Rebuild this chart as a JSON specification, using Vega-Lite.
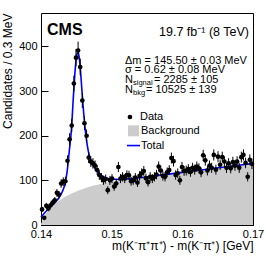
{
  "$schema": "https://vega.github.io/schema/vega-lite/v6.json",
  "width": 212,
  "height": 212,
  "autosize": {"type": "none"},
  "padding": {"left": 41, "top": 13, "right": 13, "bottom": 31},
  "background": "white",
  "config": {
    "view": {"stroke": "black", "strokeWidth": 1},
    "font": "Liberation Sans",
    "axis": {
      "labelFont": "Liberation Sans", "labelFontSize": 11, "labelColor": "black",
      "titleFont": "Liberation Sans", "titleFontSize": 12, "titleFontWeight": "normal", "titleColor": "black",
      "tickColor": "black", "domainColor": "black", "grid": false, "labelFlush": false, "labelOverlap": false
    },
    "text": {"font": "Liberation Sans", "color": "black"}
  },
  "datasets": {
    "bins": [
      {"x":0.14015,"n":35,"e":5.9},{"x":0.14045,"n":16,"e":4},{"x":0.14075,"n":43,"e":6.6},{"x":0.14105,"n":37,"e":6.1},
      {"x":0.14135,"n":44,"e":6.6},{"x":0.14165,"n":50,"e":7.1},{"x":0.14195,"n":55,"e":7.4},{"x":0.14225,"n":72,"e":8.5},
      {"x":0.14255,"n":68,"e":8.2},{"x":0.14285,"n":93,"e":9.6},{"x":0.14315,"n":97,"e":9.8},{"x":0.14345,"n":98,"e":9.9},
      {"x":0.14375,"n":144,"e":12},{"x":0.14405,"n":192,"e":13.9},{"x":0.14435,"n":223,"e":14.9},{"x":0.14465,"n":317,"e":17.8},
      {"x":0.14495,"n":375,"e":19.4},{"x":0.14525,"n":391,"e":19.8},{"x":0.14555,"n":354,"e":18.8},{"x":0.14585,"n":279,"e":16.7},
      {"x":0.14615,"n":228,"e":15.1},{"x":0.14645,"n":200,"e":14.1},{"x":0.14675,"n":151,"e":12.3},{"x":0.14705,"n":142,"e":11.9},
      {"x":0.14735,"n":138,"e":11.7},{"x":0.14765,"n":133,"e":11.5},{"x":0.14795,"n":123,"e":11.1},{"x":0.14825,"n":112,"e":10.6},
      {"x":0.14855,"n":106,"e":10.3},{"x":0.14885,"n":100,"e":10},{"x":0.14915,"n":103,"e":10.1},{"x":0.14945,"n":78,"e":8.8},
      {"x":0.14975,"n":100,"e":10},{"x":0.15005,"n":104,"e":10.2},{"x":0.15035,"n":86,"e":9.3},{"x":0.15065,"n":93,"e":9.6},
      {"x":0.15095,"n":130,"e":11.4},{"x":0.15125,"n":104,"e":10.2},{"x":0.15155,"n":108,"e":10.4},{"x":0.15185,"n":104,"e":10.2},
      {"x":0.15215,"n":112,"e":10.6},{"x":0.15245,"n":111,"e":10.5},{"x":0.15275,"n":98,"e":9.9},{"x":0.15305,"n":100,"e":10},
      {"x":0.15335,"n":106,"e":10.3},{"x":0.15365,"n":95,"e":9.7},{"x":0.15395,"n":110,"e":10.5},{"x":0.15425,"n":116,"e":10.8},
      {"x":0.15455,"n":121,"e":11},{"x":0.15485,"n":105,"e":10.2},{"x":0.15515,"n":96,"e":9.8},{"x":0.15545,"n":108,"e":10.4},
      {"x":0.15575,"n":104,"e":10.2},{"x":0.15605,"n":108,"e":10.4},{"x":0.15635,"n":113,"e":10.6},{"x":0.15665,"n":131,"e":11.4},
      {"x":0.15695,"n":122,"e":11},{"x":0.15725,"n":110,"e":10.5},{"x":0.15755,"n":108,"e":10.4},{"x":0.15785,"n":118,"e":10.9},
      {"x":0.15815,"n":123,"e":11.1},{"x":0.15845,"n":150,"e":12.2},{"x":0.15875,"n":143,"e":12},{"x":0.15905,"n":112,"e":10.6},
      {"x":0.15935,"n":116,"e":10.8},{"x":0.15965,"n":100,"e":10},{"x":0.15995,"n":130,"e":11.4},{"x":0.16025,"n":121,"e":11},
      {"x":0.16055,"n":122,"e":11},{"x":0.16085,"n":125,"e":11.2},{"x":0.16115,"n":119,"e":10.9},{"x":0.16145,"n":128,"e":11.3},
      {"x":0.16175,"n":124,"e":11.1},{"x":0.16205,"n":131,"e":11.4},{"x":0.16235,"n":127,"e":11.3},{"x":0.16265,"n":118,"e":10.9},
      {"x":0.16295,"n":156,"e":12.5},{"x":0.16325,"n":145,"e":12},{"x":0.16355,"n":122,"e":11},{"x":0.16385,"n":133,"e":11.5},
      {"x":0.16415,"n":128,"e":11.3},{"x":0.16445,"n":157,"e":12.5},{"x":0.16475,"n":124,"e":11.1},{"x":0.16505,"n":153,"e":12.4},
      {"x":0.16535,"n":135,"e":11.6},{"x":0.16565,"n":152,"e":12.3},{"x":0.16595,"n":142,"e":11.9},{"x":0.16625,"n":128,"e":11.3},
      {"x":0.16655,"n":138,"e":11.7},{"x":0.16685,"n":127,"e":11.3},{"x":0.16715,"n":141,"e":11.9},{"x":0.16745,"n":133,"e":11.5},
      {"x":0.16775,"n":142,"e":11.9},{"x":0.16805,"n":128,"e":11.3},{"x":0.16835,"n":152,"e":12.3},{"x":0.16865,"n":157,"e":12.5},
      {"x":0.16895,"n":139,"e":11.8},{"x":0.16925,"n":108,"e":10.4},{"x":0.16955,"n":146,"e":12.1},{"x":0.16985,"n":137,"e":11.7}
    ],
    "bkg": [
      {"x":0.1400,"y":2},{"x":0.1402,"y":10},{"x":0.1404,"y":17},{"x":0.1406,"y":23},{"x":0.1408,"y":28},{"x":0.1410,"y":32},
      {"x":0.1415,"y":41},{"x":0.1420,"y":48},{"x":0.1425,"y":54},{"x":0.1430,"y":59},{"x":0.1435,"y":64},{"x":0.1440,"y":68},
      {"x":0.1450,"y":75},{"x":0.1460,"y":81},{"x":0.1470,"y":86},{"x":0.1480,"y":90},{"x":0.1490,"y":94},{"x":0.1500,"y":97},
      {"x":0.1520,"y":102},{"x":0.1540,"y":106},{"x":0.1560,"y":110},{"x":0.1580,"y":114},{"x":0.1600,"y":118},{"x":0.1620,"y":122},
      {"x":0.1640,"y":126},{"x":0.1660,"y":130},{"x":0.1680,"y":134},{"x":0.1700,"y":138}
    ],
    "total": [
      {"x":0.1400,"y":18},{"x":0.1405,"y":27},{"x":0.1410,"y":35},{"x":0.1415,"y":43},{"x":0.1420,"y":51},{"x":0.1425,"y":60},
      {"x":0.1430,"y":74},{"x":0.1434,"y":92},{"x":0.1437,"y":120},{"x":0.1440,"y":165},{"x":0.1443,"y":213},{"x":0.1446,"y":292},
      {"x":0.1449,"y":360},{"x":0.1451,"y":384},{"x":0.1453,"y":386},{"x":0.1455,"y":362},{"x":0.1458,"y":300},{"x":0.1461,"y":240},
      {"x":0.1464,"y":195},{"x":0.1467,"y":165},{"x":0.1470,"y":147},{"x":0.1473,"y":136},{"x":0.1476,"y":128},{"x":0.1480,"y":120},
      {"x":0.1485,"y":112},{"x":0.1490,"y":107},{"x":0.1495,"y":104},{"x":0.1500,"y":103},{"x":0.1510,"y":102},{"x":0.1520,"y":103},
      {"x":0.1540,"y":106},{"x":0.1560,"y":110},{"x":0.1580,"y":114},{"x":0.1600,"y":118},{"x":0.1620,"y":122},{"x":0.1640,"y":126},
      {"x":0.1660,"y":130},{"x":0.1680,"y":134},{"x":0.1700,"y":138}
    ]
  },
  "layer": [
    {
      "data": {"name": "bkg"},
      "mark": {"type": "area", "color": "#cccccc", "interpolate": "monotone"},
      "encoding": {
        "x": {"field": "x", "type": "quantitative", "title": "m(K⁻π⁺π⁺) - m(K⁻π⁺) [GeV]",
              "scale": {"domain": [0.14, 0.17], "nice": false, "zero": false},
              "axis": {"orient": "bottom", "values": [0.14,0.145,0.15,0.155,0.16,0.165,0.17], "format": "~g",
                       "labelOverlap": false, "labelFlush": false,
                       "tickSize": -7, "domain": false, "labelPadding": 10,
                       "title": "m(K⁻π⁺π⁺) - m(K⁻π⁺) [GeV]", "titleAnchor": "end", "titlePadding": 1}},
        "y": {"field": "y", "type": "quantitative", "title": "Candidates / 0.3 MeV",
              "scale": {"domain": [0, 475], "nice": false},
              "axis": {"orient": "left", "values": [0,50,100,150,200,250,300,350,400,450], "format": "d",
                       "labelOverlap": false,
                       "tickSize": -7, "domain": false, "labelPadding": 11,
                       "title": "Candidates / 0.3 MeV", "titleAnchor": "end", "titlePadding": 4}}
      }
    },
    {
      "data": {"name": "total"},
      "mark": {"type": "line", "color": "#0000ff", "strokeWidth": 1.6, "interpolate": "monotone"},
      "encoding": {
        "x": {"field": "x", "type": "quantitative", "title": "m(K⁻π⁺π⁺) - m(K⁻π⁺) [GeV]"},
        "y": {"field": "y", "type": "quantitative", "title": "Candidates / 0.3 MeV"}
      }
    },
    {
      "data": {"name": "bins"},
      "mark": {"type": "errorbar", "color": "black", "thickness": 1},
      "encoding": {
        "x": {"field": "x", "type": "quantitative", "title": "m(K⁻π⁺π⁺) - m(K⁻π⁺) [GeV]"},
        "y": {"field": "n", "type": "quantitative", "title": "Candidates / 0.3 MeV"},
        "yError": {"field": "e"}
      }
    },
    {
      "data": {"name": "bins"},
      "mark": {"type": "point", "shape": "circle", "filled": true, "color": "black", "size": 22, "opacity": 1},
      "encoding": {
        "x": {"field": "x", "type": "quantitative", "title": "m(K⁻π⁺π⁺) - m(K⁻π⁺) [GeV]"},
        "y": {"field": "n", "type": "quantitative", "title": "Candidates / 0.3 MeV"}
      }
    },
    {
      "data": {"values": [{}]},
      "layer": [
        {"mark": {"type": "text", "text": "CMS", "fontSize": 16, "fontWeight": "bold", "align": "left", "baseline": "middle"},
         "encoding": {"x": {"datum": 0.14085, "type": "quantitative"}, "y": {"datum": 437, "type": "quantitative"}}},
        {"mark": {"type": "text", "text": "19.7 fb⁻¹ (8 TeV)", "fontSize": 12.5, "align": "right", "baseline": "middle"},
         "encoding": {"x": {"datum": 0.16943, "type": "quantitative"}, "y": {"datum": 432, "type": "quantitative"}}},
        {"mark": {"type": "text", "text": "Δm = 145.50 ± 0.03 MeV", "fontSize": 11, "align": "left", "baseline": "middle"},
         "encoding": {"x": {"datum": 0.15189, "type": "quantitative"}, "y": {"datum": 367, "type": "quantitative"}}},
        {"mark": {"type": "text", "text": "σ = 0.62 ± 0.08 MeV", "fontSize": 11, "align": "left", "baseline": "middle"},
         "encoding": {"x": {"datum": 0.15189, "type": "quantitative"}, "y": {"datum": 347, "type": "quantitative"}}},
        {"mark": {"type": "text", "text": "N", "fontSize": 11, "align": "left", "baseline": "middle"},
         "encoding": {"x": {"datum": 0.15189, "type": "quantitative"}, "y": {"datum": 325, "type": "quantitative"}}},
        {"mark": {"type": "text", "text": "signal", "fontSize": 7.5, "align": "left", "baseline": "middle", "dx": 8, "dy": 3},
         "encoding": {"x": {"datum": 0.15189, "type": "quantitative"}, "y": {"datum": 325, "type": "quantitative"}}},
        {"mark": {"type": "text", "text": "= 2285 ± 105", "fontSize": 11, "align": "left", "baseline": "middle", "dx": 29},
         "encoding": {"x": {"datum": 0.15189, "type": "quantitative"}, "y": {"datum": 325, "type": "quantitative"}}},
        {"mark": {"type": "text", "text": "N", "fontSize": 11, "align": "left", "baseline": "middle"},
         "encoding": {"x": {"datum": 0.15189, "type": "quantitative"}, "y": {"datum": 302, "type": "quantitative"}}},
        {"mark": {"type": "text", "text": "bkg", "fontSize": 7.5, "align": "left", "baseline": "middle", "dx": 8, "dy": 3},
         "encoding": {"x": {"datum": 0.15189, "type": "quantitative"}, "y": {"datum": 302, "type": "quantitative"}}},
        {"mark": {"type": "text", "text": "= 10525 ± 139", "fontSize": 11, "align": "left", "baseline": "middle", "dx": 21},
         "encoding": {"x": {"datum": 0.15189, "type": "quantitative"}, "y": {"datum": 302, "type": "quantitative"}}},
        {"mark": {"type": "point", "shape": "circle", "filled": true, "color": "black", "size": 22, "opacity": 1},
         "encoding": {"x": {"datum": 0.15259, "type": "quantitative"}, "y": {"datum": 242, "type": "quantitative"}}},
        {"mark": {"type": "text", "text": "Data", "fontSize": 11, "align": "left", "baseline": "middle"},
         "encoding": {"x": {"datum": 0.15401, "type": "quantitative"}, "y": {"datum": 242, "type": "quantitative"}}},
        {"mark": {"type": "point", "shape": "square", "filled": true, "color": "#cccccc", "size": 120, "opacity": 1},
         "encoding": {"x": {"datum": 0.15309, "type": "quantitative"}, "y": {"datum": 211, "type": "quantitative"}}},
        {"mark": {"type": "text", "text": "Background", "fontSize": 11, "align": "left", "baseline": "middle"},
         "encoding": {"x": {"datum": 0.15415, "type": "quantitative"}, "y": {"datum": 211, "type": "quantitative"}}},
        {"mark": {"type": "rule", "color": "#0000ff", "strokeWidth": 1.6},
         "encoding": {"x": {"datum": 0.15217, "type": "quantitative"}, "x2": {"datum": 0.15401}, "y": {"datum": 178, "type": "quantitative"}}},
        {"mark": {"type": "text", "text": "Total", "fontSize": 11, "align": "left", "baseline": "middle"},
         "encoding": {"x": {"datum": 0.15415, "type": "quantitative"}, "y": {"datum": 178, "type": "quantitative"}}}
      ]
    }
  ]
}
